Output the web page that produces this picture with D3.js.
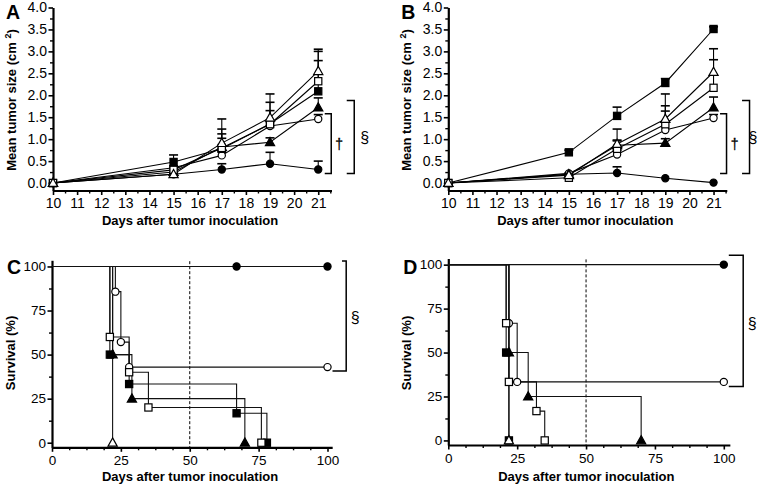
<!DOCTYPE html>
<html><head><meta charset="utf-8">
<script src="https://cdn.jsdelivr.net/npm/d3@7"></script>
<style>
body{margin:0;background:#fff}
text{font-family:"Liberation Sans",Arial,sans-serif;fill:#000}
</style>
</head><body>
<svg id="c" width="761" height="488"></svg>
<script>
// ---------- DATA ----------
const tumorDays = [10, 15, 17, 19, 21];
const tumorTicks = [10, 11, 12, 13, 14, 15, 16, 17, 18, 19, 20, 21];
const sizeTicks = [0, 0.5, 1, 1.5, 2, 2.5, 3, 3.5, 4];
const survTicks = [0, 25, 50, 75, 100];
const shapes = ["filledCircle", "openCircle", "filledTriangle", "filledSquare", "openSquare", "openTriangle"];

// Panel A: mean tumor size (cm2) and upper error
const aFilledCircle = [0, 0.20, 0.31, 0.44, 0.31];
const aOpenCircle = [0, 0.35, 0.63, 1.30, 1.46];
const aFilledTriangle = [0, 0.25, 0.82, 0.93, 1.72];
const aFilledSquare = [0, 0.48, 0.78, 1.35, 2.09];
const aOpenSquare = [0, 0.30, 0.80, 1.34, 2.32];
const aOpenTriangle = [0, 0.20, 0.91, 1.49, 2.55];
const aFilledCircleErr = [0, 0.04, 0.13, 0.26, 0.19];
const aOpenCircleErr = [0, 0.04, 0.08, 0.10, 0.10];
const aFilledTriangleErr = [0, 0.04, 0.20, 0.10, 0.22];
const aFilledSquareErr = [0, 0.16, 0.45, 0.30, 0.70];
const aOpenSquareErr = [0, 0.04, 0.32, 0.50, 0.68];
const aOpenTriangleErr = [0, 0.04, 0.55, 0.54, 0.50];

// Panel B
const bFilledCircle = [0, 0.20, 0.23, 0.11, 0.01];
const bOpenCircle = [0, 0.22, 0.65, 1.21, 1.48];
const bFilledTriangle = [0, 0.20, 0.86, 0.91, 1.72];
const bFilledSquare = [0, 0.70, 1.53, 2.28, 3.51];
const bOpenSquare = [0, 0.12, 0.78, 1.34, 2.17];
const bOpenTriangle = [0, 0.18, 0.89, 1.46, 2.53];
const bFilledCircleErr = [0, 0.03, 0.14, 0.03, 0.02];
const bOpenCircleErr = [0, 0.03, 0.10, 0.43, 0.08];
const bFilledTriangleErr = [0, 0.03, 0.10, 0.10, 0.24];
const bFilledSquareErr = [0, 0.05, 0.20, 0.10, 0.05];
const bOpenSquareErr = [0, 0.05, 0.20, 0.42, 0.64];
const bOpenTriangleErr = [0, 0.05, 0.34, 0.57, 0.53];

// Panel C: Kaplan-Meier steps (day, survival %)
const cFilledCircleT = [0, 67, 100];       const cFilledCircleS = [100, 100, 100];
const cOpenCircleT = [0, 23, 25, 28, 100]; const cOpenCircleS = [100, 85.7, 57.1, 42.9, 42.9];
const cFilledTriangleT = [0, 22, 29, 70];  const cFilledTriangleS = [100, 50, 25, 0];
const cFilledSquareT = [0, 21, 28, 67, 78]; const cFilledSquareS = [100, 50, 33.3, 16.7, 0];
const cOpenSquareT = [0, 21, 28, 35, 76];  const cOpenSquareS = [100, 60, 40, 20, 0];
const cOpenTriangleT = [0, 22];            const cOpenTriangleS = [100, 0];

// Panel D
const dFilledCircleT = [0, 100];           const dFilledCircleS = [100, 100];
const dOpenCircleT = [0, 22, 25, 100];     const dOpenCircleS = [100, 66.7, 33.3, 33.3];
const dFilledTriangleT = [0, 22, 29, 70];  const dFilledTriangleS = [100, 50, 25, 0];
const dFilledSquareT = [0, 21, 22];        const dFilledSquareS = [100, 50, 0];
const dOpenSquareT = [0, 21, 22, 32, 35];  const dOpenSquareS = [100, 66.7, 33.3, 16.7, 0];
const dOpenTriangleT = [0, 22];            const dOpenTriangleS = [100, 0];

// ---------- DRAWING ----------
const svg = d3.select("#c");

function marker(g, shape, cx, cy) {
  const fill = shape.startsWith("filled") ? "#000" : "#fff";
  let el;
  if (shape.endsWith("Circle")) {
    el = g.append("circle").attr("cx", cx).attr("cy", cy).attr("r", 3.6);
  } else if (shape.endsWith("Square")) {
    el = g.append("rect").attr("x", cx - 3.6).attr("y", cy - 3.6).attr("width", 7.2).attr("height", 7.2);
  } else {
    el = g.append("path").attr("d", `M${cx},${cy - 4.8}L${cx + 4.6},${cy + 3.4}L${cx - 4.6},${cy + 3.4}Z`);
  }
  el.attr("fill", fill).attr("stroke", "#000").attr("stroke-width", 1.2);
}

function styleAxis(g) {
  g.select(".domain").attr("stroke", "#000").attr("stroke-width", 2.2);
  g.selectAll(".tick line").attr("stroke", "#000").attr("stroke-width", 1.6);
  g.selectAll(".tick text").attr("font-family", "Liberation Sans, Arial, sans-serif").attr("fill", "#000");
}

function bracket(g, xv, xArm, yTop, yBot, xArmTop) {
  const a = xArmTop === undefined ? xArm : xArmTop;
  g.append("path").attr("d", `M${a},${yTop}H${xv}V${yBot}H${xArm}`)
    .attr("fill", "none").attr("stroke", "#000").attr("stroke-width", 1.5);
}

function symbolText(g, x, y, size, str, sw) {
  const t = g.append("text").attr("x", x).attr("y", y).attr("text-anchor", "middle")
    .attr("font-family", "DejaVu Serif, Liberation Serif, serif").attr("font-size", size)
    .attr("fill", "#000").text(str);
  if (sw) t.attr("stroke", "#000").attr("stroke-width", sw);
}

function tumorPanel(ox, label, means, errs) {
  const g = svg.append("g");
  const x = d3.scaleLinear().domain([10, 21.55]).range([ox, ox + 278.5]);
  const y = d3.scaleLinear().domain([-0.17, 4]).range([190.5, 7.5]);
  const base = y(-0.17);

  // minor ticks
  g.append("g").attr("transform", `translate(0,${base})`)
    .call(d3.axisBottom(x).tickValues(d3.range(10.5, 21.6, 1)).tickSize(3).tickSizeOuter(0).tickFormat(""))
    .call(a => { a.select(".domain").remove(); a.selectAll("line").attr("stroke", "#000").attr("stroke-width", 1.4); });
  g.append("g").attr("transform", `translate(${ox},0)`)
    .call(d3.axisLeft(y).tickValues(d3.range(0.25, 4, 0.5)).tickSize(3).tickSizeOuter(0).tickFormat(""))
    .call(a => { a.select(".domain").remove(); a.selectAll("line").attr("stroke", "#000").attr("stroke-width", 1.4); });

  const xa = g.append("g").attr("transform", `translate(0,${base})`)
    .call(d3.axisBottom(x).tickValues(tumorTicks).tickSize(4.5).tickSizeOuter(0).tickPadding(3.5).tickFormat(d3.format("d")));
  xa.selectAll("text").attr("font-size", 14);
  styleAxis(xa);
  const ya = g.append("g").attr("transform", `translate(${ox},0)`)
    .call(d3.axisLeft(y).tickValues(sizeTicks).tickSize(4.5).tickSizeOuter(0).tickPadding(1.5).tickFormat(d3.format(".1f")));
  ya.selectAll("text").attr("font-size", 14);
  styleAxis(ya);

  const line = d3.line().x((d, i) => x(tumorDays[i])).y(d => y(d));
  shapes.forEach((s, k) => {
    g.append("path").attr("d", line(means[k])).attr("fill", "none").attr("stroke", "#000").attr("stroke-width", 1.1);
  });
  shapes.forEach((s, k) => {
    means[k].forEach((m, i) => {
      const e = errs[k][i];
      if (e <= 0.03) return;
      const cx = x(tumorDays[i]);
      g.append("line").attr("x1", cx).attr("x2", cx).attr("y1", y(m)).attr("y2", y(m + e)).attr("stroke", "#000").attr("stroke-width", 1.1);
      g.append("line").attr("x1", cx - 4.5).attr("x2", cx + 4.5).attr("y1", y(m + e)).attr("y2", y(m + e)).attr("stroke", "#000").attr("stroke-width", 1.6);
    });
  });
  shapes.forEach((s, k) => {
    means[k].forEach((m, i) => marker(g, s, x(tumorDays[i]), y(m)));
  });

  // significance brackets
  const x21 = x(21);
  bracket(g, x21 + 13, x21 + 6.5, y(1.58), y(0.22));
  bracket(g, x21 + 36, x21 + 28.5, y(1.88), y(0.22));
  symbolText(g, x21 + 21, y(0.9) + 5, 14, "†", 0.3);
  symbolText(g, Math.min(x21 + 46.5, 753), y(1.05) + 6, 16, "§");

  // titles
  g.append("text").attr("x", ox - 47).attr("y", 18.5).attr("font-size", 19.5).attr("font-weight", "bold").text(label);
  g.append("text").attr("x", ox + 137).attr("y", 225).attr("text-anchor", "middle")
    .attr("font-size", 13).attr("font-weight", "bold").text("Days after tumor inoculation");
  const yt = g.append("text").attr("transform", `translate(${ox - 37},100) rotate(-90)`).attr("text-anchor", "middle")
    .attr("font-size", 13).attr("font-weight", "bold");
  yt.append("tspan").text("Mean tumor size (cm ");
  yt.append("tspan").attr("dy", -5).attr("font-size", 9).text("2");
  yt.append("tspan").attr("dy", 5).text(")");
}

function survPanel(ox, xMax, yRange, label, times, survs, brk) {
  const g = svg.append("g");
  const x = d3.scaleLinear().domain([0, xMax]).range([ox, ox + xMax * 2.755]);
  const y = d3.scaleLinear().domain([-2.6, 103.5]).range(yRange);
  const base = y(-2.6);

  g.append("g").attr("transform", `translate(0,${base})`)
    .call(d3.axisBottom(x).tickValues(d3.range(6.25, 100, 6.25).filter(v => v % 25 !== 0)).tickSize(3).tickSizeOuter(0).tickFormat(""))
    .call(a => { a.select(".domain").remove(); a.selectAll("line").attr("stroke", "#000").attr("stroke-width", 1.4); });
  g.append("g").attr("transform", `translate(${ox},0)`)
    .call(d3.axisLeft(y).tickValues([12.5, 37.5, 62.5, 87.5]).tickSize(3).tickSizeOuter(0).tickFormat(""))
    .call(a => { a.select(".domain").remove(); a.selectAll("line").attr("stroke", "#000").attr("stroke-width", 1.4); });

  const xa = g.append("g").attr("transform", `translate(0,${base})`)
    .call(d3.axisBottom(x).tickValues(survTicks).tickSize(4.5).tickSizeOuter(0).tickPadding(3.5).tickFormat(d3.format("d")));
  xa.selectAll("text").attr("font-size", 13.5);
  styleAxis(xa);
  const ya = g.append("g").attr("transform", `translate(${ox},0)`)
    .call(d3.axisLeft(y).tickValues(survTicks).tickSize(4.5).tickSizeOuter(0).tickPadding(1.5).tickFormat(d3.format("d")));
  ya.selectAll("text").attr("font-size", 13.5);
  styleAxis(ya);

  // dashed line at day 50
  g.append("line").attr("x1", x(50)).attr("x2", x(50)).attr("y1", y(103)).attr("y2", base)
    .attr("stroke", "#000").attr("stroke-width", 1).attr("stroke-dasharray", "3,2");

  const line = d3.line().curve(d3.curveStepAfter).x(d => x(d[0])).y(d => y(d[1]));
  shapes.forEach((s, k) => {
    const pts = times[k].map((t, i) => [t, survs[k][i]]);
    g.append("path").attr("d", line(pts)).attr("fill", "none").attr("stroke", "#111").attr("stroke-width", 1.1);
  });
  shapes.forEach((s, k) => {
    times[k].forEach((t, i) => { if (i > 0) marker(g, s, x(t), y(survs[k][i])); });
  });

  // bracket
  const x100 = x(100);
  bracket(g, x100 + brk.dx, x100 + brk.arm, y(100) - brk.top, y(brk.low) + brk.bot, x100 + brk.armTop);
  symbolText(g, x100 + brk.dx + 9, (y(100) + y(brk.low)) / 2 + 6, 16, "§");

  g.append("text").attr("x", ox - 45).attr("y", 274).attr("font-size", 19.5).attr("font-weight", "bold").text(label);
  g.append("text").attr("x", ox + 138).attr("y", 481).attr("text-anchor", "middle")
    .attr("font-size", 13).attr("font-weight", "bold").text("Days after tumor inoculation");
  g.append("text").attr("transform", `translate(${ox - 37},353) rotate(-90)`).attr("text-anchor", "middle")
    .attr("font-size", 13).attr("font-weight", "bold").text("Survival (%)");
}

tumorPanel(53, "A",
  [aFilledCircle, aOpenCircle, aFilledTriangle, aFilledSquare, aOpenSquare, aOpenTriangle],
  [aFilledCircleErr, aOpenCircleErr, aFilledTriangleErr, aFilledSquareErr, aOpenSquareErr, aOpenTriangleErr]);
tumorPanel(448.3, "B",
  [bFilledCircle, bOpenCircle, bFilledTriangle, bFilledSquare, bOpenSquare, bOpenTriangle],
  [bFilledCircleErr, bOpenCircleErr, bFilledTriangleErr, bFilledSquareErr, bOpenSquareErr, bOpenTriangleErr]);

survPanel(52, 101.7, [447.3, 260.3], "C",
  [cFilledCircleT, cOpenCircleT, cFilledTriangleT, cFilledSquareT, cOpenSquareT, cOpenTriangleT],
  [cFilledCircleS, cOpenCircleS, cFilledTriangleS, cFilledSquareS, cOpenSquareS, cOpenTriangleS],
  { dx: 18.7, arm: 5, armTop: 14.5, top: 5.5, low: 42.9, bot: 4 });
survPanel(448.3, 102.2, [445, 258.5], "D",
  [dFilledCircleT, dOpenCircleT, dFilledTriangleT, dFilledSquareT, dOpenSquareT, dOpenTriangleT],
  [dFilledCircleS, dOpenCircleS, dFilledTriangleS, dFilledSquareS, dOpenSquareS, dOpenTriangleS],
  { dx: 19.4, arm: 5, armTop: 5, top: 9.3, low: 33.3, bot: 4.7 });
</script>
</body></html>
